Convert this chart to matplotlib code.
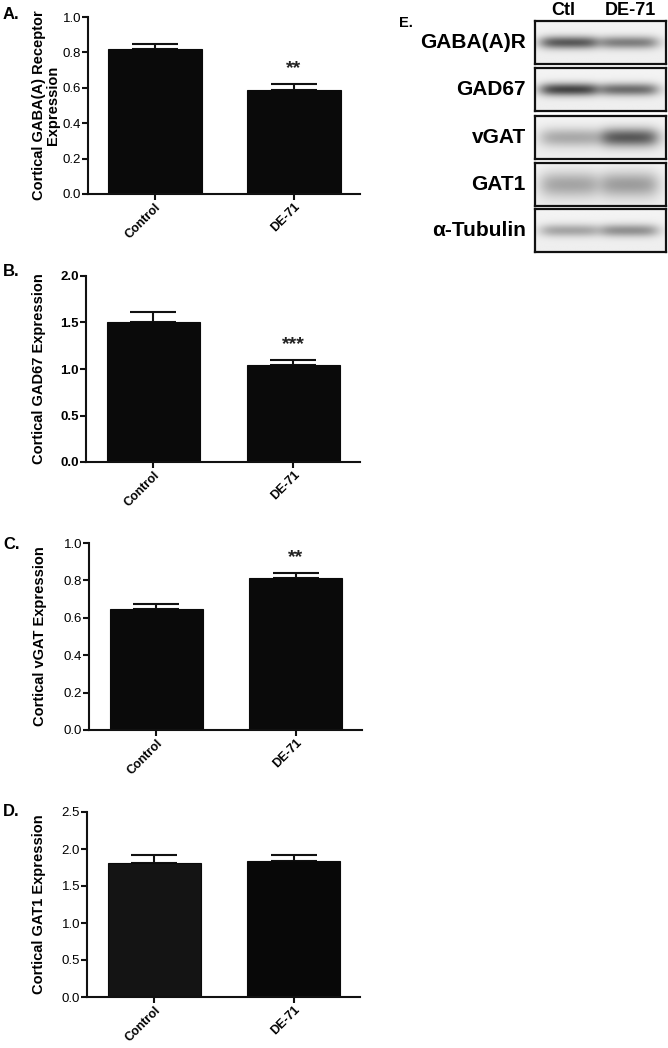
#!/usr/bin/env python3
# plot.py - cortical GABA marker expression, Control vs DE-71

import numpy as np
import matplotlib.pyplot as plt

plt.rcParams['font.family'] = ['Liberation Sans', 'DejaVu Sans']

groups = ['Control', 'DE-71']

# bar panels: means and SEM
gaba_mean = [0.82, 0.59]
gaba_sem = [0.028, 0.033]
gad67_mean = [1.51, 1.04]
gad67_sem = [0.10, 0.06]
vgat_mean = [0.647, 0.815]
vgat_sem = [0.026, 0.026]
gat1_mean = [1.815, 1.835]
gat1_sem = [0.11, 0.09]

panel_letters = ['A.', 'B.', 'C.', 'D.']
ylabels = ['Cortical GABA(A) Receptor\nExpression',
           'Cortical GAD67 Expression',
           'Cortical vGAT Expression',
           'Cortical GAT1 Expression']
ymaxes = [1.0, 2.0, 1.0, 2.5]
ysteps = [0.2, 0.5, 0.2, 0.5]
stars = [[None, '**'], [None, '***'], [None, '**'], [None, None]]

# western blot panel: relative band darkness (Ctl, DE-71)
blot_labels = ['GABA(A)R', 'GAD67', 'vGAT', 'GAT1', 'α-Tubulin']
blot_ctl = [0.60, 0.68, 0.28, 0.30, 0.30]
blot_de = [0.45, 0.52, 0.60, 0.33, 0.38]
band_sigma = [0.15, 0.15, 0.22, 0.30, 0.15]
blot_lanes = ['Ctl', 'DE-71']

W, H = 668, 1048
fig = plt.figure(figsize=(W / 100, H / 100), dpi=100)


def px_axes(x0, y0, x1, y1):
    # axes from pixel box (top-left origin)
    return fig.add_axes([x0 / W, 1 - y1 / H, (x1 - x0) / W, (y1 - y0) / H])


# pixel boxes for each bar panel: left, top, right, bottom(zero line)
boxes = [(88, 17, 360, 194), (86, 276, 360, 462),
         (89, 543, 362, 730), (87, 812, 360, 997)]
letter_y = [19, 276, 549, 816]
label_px = [60, 46, 47, 46]
means = [gaba_mean, gad67_mean, vgat_mean, gat1_mean]
sems = [gaba_sem, gad67_sem, vgat_sem, gat1_sem]
bar_colors = [['#0a0a0a', '#0a0a0a'], ['#0a0a0a', '#0a0a0a'],
              ['#0a0a0a', '#0a0a0a'], ['#141414', '#080808']]
tick_bold = [False, True, False, False]

x = np.arange(len(groups))
for i in range(4):
    x0, y0, x1, y1 = boxes[i]
    ax = px_axes(x0, y0, x1, y1)
    ax.bar(x, means[i], width=0.67, color=bar_colors[i], edgecolor='#0a0a0a',
           linewidth=0.8, zorder=2)
    ax.errorbar(x, means[i], yerr=[np.zeros(2), sems[i]], fmt='none',
                ecolor='#111111', elinewidth=1.5, capsize=16.5, capthick=1.5,
                zorder=1)
    for j in range(2):
        if stars[i][j]:
            ax.annotate(stars[i][j], (x[j], means[i][j] + sems[i][j]),
                        xytext=(0, 5), textcoords='offset points',
                        ha='center', va='bottom', fontsize=14,
                        fontweight='bold', color='#222222')
    ax.set_xlim(-0.482, 1.475)
    ax.set_ylim(0, ymaxes[i])
    ax.set_yticks(np.arange(0, ymaxes[i] + 1e-9, ysteps[i]))
    ax.set_yticklabels([f'{v:.1f}' for v in ax.get_yticks()],
                       fontsize=9.5,
                       fontweight='bold' if tick_bold[i] else 'normal')
    ax.set_xticks(x)
    ax.set_xticklabels(groups, rotation=45, ha='right', rotation_mode='anchor',
                       fontsize=9, fontweight='bold')
    for s in ['top', 'right']:
        ax.spines[s].set_visible(False)
    for s in ['left', 'bottom']:
        ax.spines[s].set_linewidth(1.5)
        ax.spines[s].set_color('#111111')
    ax.tick_params(axis='both', width=1.5, length=4, color='#111111', pad=1)
    ax.set_ylabel(ylabels[i], fontsize=10.5, fontweight='bold',
                  linespacing=1.0)
    ax.yaxis.set_label_coords((label_px[i] - x0) / (x1 - x0), 0.5)
    fig.text(3 / W, 1 - letter_y[i] / H, panel_letters[i], fontsize=12,
             fontweight='bold', ha='left', va='baseline')

# panel E: western blot strips
fig.text(399 / W, 1 - 27 / H, 'E.', fontsize=10.5, fontweight='bold',
         ha='left', va='baseline')
fig.text(563 / W, 1 - 15 / H, blot_lanes[0], fontsize=13, fontweight='bold',
         ha='center', va='baseline')
fig.text(630 / W, 1 - 15 / H, blot_lanes[1], fontsize=13, fontweight='bold',
         ha='center', va='baseline')

row_tops = [21, 68, 116, 163, 209]
xs = np.linspace(0, 1, 260)
ys = np.linspace(0, 1, 90)
XX, YY = np.meshgrid(xs, ys)


def lane_profile(xc, half):
    # soft-edged lane mask
    return 1 / (1 + np.exp(-(half - np.abs(XX - xc)) / 0.035))


for k, name in enumerate(blot_labels):
    top = row_tops[k]
    ax = px_axes(535, top, 666, top + 43)
    band_y = np.exp(-((YY - 0.5) / band_sigma[k]) ** 2)
    img = 0.955 - 0.02 * YY
    img = img - blot_ctl[k] * band_y * lane_profile(0.26, 0.21)
    img = img - blot_de[k] * band_y * lane_profile(0.72, 0.21)
    ax.imshow(img, cmap='gray', vmin=0, vmax=1, aspect='auto',
              extent=[0, 1, 0, 1], interpolation='bilinear')
    ax.set_xticks([])
    ax.set_yticks([])
    for s in ax.spines.values():
        s.set_linewidth(1.6)
        s.set_color('#111111')
    fig.text(526 / W, 1 - (top + 21.5) / H, name, fontsize=15,
             fontweight='bold', ha='right', va='center')

fig.savefig('out.png', dpi=100)
